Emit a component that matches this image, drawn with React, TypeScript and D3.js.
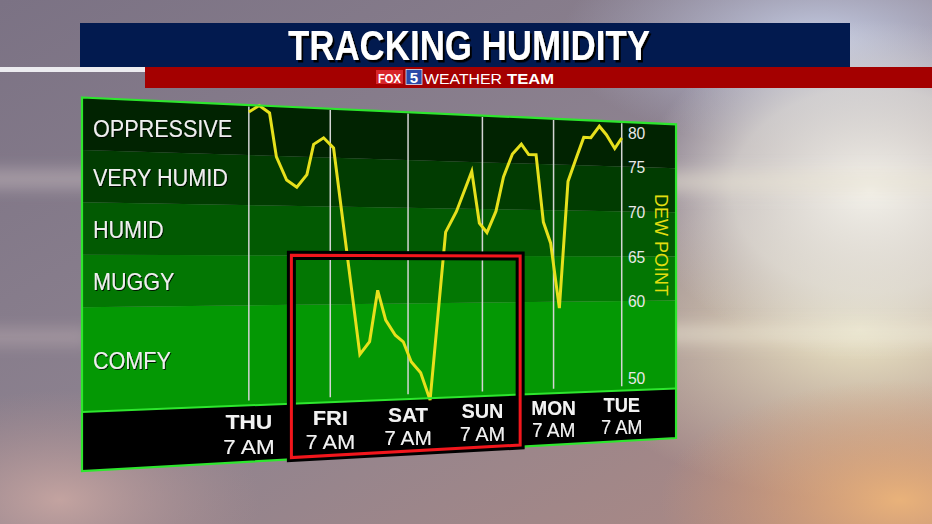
import React from 'react';
import * as d3 from 'd3';

// ---------- DATA ----------
const bandLabels = ['OPPRESSIVE', 'VERY HUMID', 'HUMID', 'MUGGY', 'COMFY'];
const bandTops = [80, 75, 70, 65, 60];
const bandBottoms = [75, 70, 65, 60, 50];
const bandColors = ['#012301', '#013c01', '#025a02', '#037703', '#049804'];
const dayLabels = ['THU', 'FRI', 'SAT', 'SUN', 'MON', 'TUE'];
const timeLabel = '7 AM';
const dewTicks = [80, 75, 70, 65, 60, 50];
// hours after THU 7 AM
const hours = [0, 3, 6, 8, 11, 14, 17, 19, 22, 25, 33, 36, 38.5, 41, 44, 46.5, 49, 52, 55, 60, 63.5, 68.5, 71, 73.5, 76.5, 79, 82, 85, 87.5, 90, 92.5, 95, 98, 101, 104, 106.5, 109, 112, 114.5, 117.5, 120];
const dewPoints = [79.3, 80, 79.3, 74.9, 72.6, 71.9, 73.2, 76.3, 77, 76, 54.8, 56.1, 61.4, 58.3, 56.7, 56, 53.9, 52.7, 49.8, 67.5, 69.7, 74, 68.5, 67.5, 69.8, 73.5, 76, 77.1, 76, 76, 68.7, 66.4, 59.3, 73.2, 75.9, 78.1, 78.1, 79.4, 78.5, 77, 78.2];
const highlightHours = [12.4, 84.6];
const highlightTopDew = 65;
const title = 'TRACKING HUMIDITY';
const yAxisTitle = 'DEW POINT';

// ---------- PERSPECTIVE ----------
const PG = 0.1906, PA = 722.9, PC = 82, PD = 50.5, PE = 373.5, PF = 97.5;
function project(s: number, v: number): [number, number] {
  const w = 1 + PG * s;
  return [(PA * s + PC) / w, (PD * s + PE * v + PF) / w];
}
function jx(s: number) {
  return 1 / ((1 + PG * s) * (1 + PG * s));
}
function quad(s0: number, s1: number, v0: number, v1: number) {
  const p = [project(s0, v0), project(s1, v0), project(s1, v1), project(s0, v1)];
  return 'M' + p.map((q) => q[0].toFixed(2) + ',' + q[1].toFixed(2)).join('L') + 'Z';
}

const GREEN_BOTTOM = 0.842;
const sScale = d3.scaleLinear().domain([0, 120]).range([0.247, 0.893]);
const vScale = d3.scaleLinear().domain([80, 50]).range([0, GREEN_BOTTOM]);

const FONT = "'Liberation Sans', Arial, Helvetica, sans-serif";

export default function App() {
  const linePts = hours.map((h, i) => project(sScale(h), vScale(dewPoints[i])));
  const linePath = d3.line().curve(d3.curveLinear)(linePts) || '';
  const sepA = project(0, GREEN_BOTTOM);
  const sepB = project(1, GREEN_BOTTOM);
  const dewAnchor = project(0.958, 0.385);
  const boxPath = quad(sScale(highlightHours[0]), sScale(highlightHours[1]), vScale(highlightTopDew), 0.995);

  return (
    <svg width={932} height={524} style={{ position: 'absolute', left: 0, top: 0 }} fontFamily={FONT}>
      <defs>
        <filter id="ts" x="-10%" y="-20%" width="130%" height="150%">
          <feDropShadow dx="1" dy="1" stdDeviation="0.6" floodColor="#000" floodOpacity="0.85" />
        </filter>
        <filter id="tts" x="-10%" y="-20%" width="130%" height="160%">
          <feDropShadow dx="2" dy="2.5" stdDeviation="0.4" floodColor="#000" floodOpacity="1" />
        </filter>
        <filter id="blur8"><feGaussianBlur stdDeviation="8" /></filter>
        <linearGradient id="bgBase" x1="0" y1="0" x2="1" y2="1">
          <stop offset="0" stopColor="#7b7284" />
          <stop offset="0.5" stopColor="#8e8390" />
          <stop offset="1" stopColor="#b08a82" />
        </linearGradient>
        <radialGradient id="glow" cx="0.5" cy="0.5" r="0.5">
          <stop offset="0" stopColor="#f3f1ea" stopOpacity="1" />
          <stop offset="0.6" stopColor="#e4e2dc" stopOpacity="0.7" />
          <stop offset="1" stopColor="#d8d6d8" stopOpacity="0" />
        </radialGradient>
        <radialGradient id="orange" cx="0.5" cy="0.5" r="0.5">
          <stop offset="0" stopColor="#e9b27a" stopOpacity="1" />
          <stop offset="1" stopColor="#d99a70" stopOpacity="0" />
        </radialGradient>
        <radialGradient id="blue" cx="0.5" cy="0.5" r="0.5">
          <stop offset="0" stopColor="#c4cbe2" stopOpacity="1" />
          <stop offset="1" stopColor="#b0b6d0" stopOpacity="0" />
        </radialGradient>
        <radialGradient id="cream" cx="0.5" cy="0.5" r="0.5">
          <stop offset="0" stopColor="#ece6c6" stopOpacity="1" />
          <stop offset="1" stopColor="#e2d8b8" stopOpacity="0" />
        </radialGradient>
        <radialGradient id="pink" cx="0.5" cy="0.5" r="0.5">
          <stop offset="0" stopColor="#c3a3a0" stopOpacity="1" />
          <stop offset="1" stopColor="#b09090" stopOpacity="0" />
        </radialGradient>
      </defs>

      {/* background */}
      <rect x={0} y={0} width={932} height={524} fill="url(#bgBase)" />
      <ellipse cx={820} cy={40} rx={260} ry={110} fill="url(#blue)" />
      <ellipse cx={860} cy={330} rx={300} ry={170} fill="url(#cream)" />
      <ellipse cx={870} cy={190} rx={230} ry={170} fill="url(#glow)" />
      <ellipse cx={900} cy={500} rx={240} ry={120} fill="url(#orange)" />
      <ellipse cx={60} cy={500} rx={200} ry={110} fill="url(#pink)" />
      <g filter="url(#blur8)" opacity={0.55}>
        <rect x={640} y={172} width={320} height={20} fill="#e8e2d2" />
        <rect x={-20} y={170} width={120} height={18} fill="#c8bcc0" />
        <rect x={660} y={326} width={300} height={16} fill="#f0ead8" />
        <rect x={-20} y={330} width={110} height={14} fill="#c0b0b4" />
      </g>

      {/* header */}
      <rect x={0} y={67} width={146} height={5} fill="#ececf0" />
      <rect x={80} y={23} width={770} height={44} fill="#021a4f" />
      <rect x={145} y={67} width={787} height={21} fill="#a40000" />
      <text x={469} y={60} textAnchor="middle" fontSize={42} fontWeight={900} fill="#fff"
        textLength={362} lengthAdjust="spacingAndGlyphs" filter="url(#tts)">{title}</text>
      <rect x={376} y={70} width={27} height={14} fill="#d8262a" />
      <text x={389.5} y={82.5} textAnchor="middle" fontSize={13} fontWeight={700} fill="#fff"
        textLength={23} lengthAdjust="spacingAndGlyphs">FOX</text>
      <rect x={406} y={69.5} width={16} height={15} fill="#2a4aa8" stroke="#dfe4f0" strokeWidth={0.8} />
      <text x={414} y={83} textAnchor="middle" fontSize={15} fontWeight={700} fill="#fff">5</text>
      <text x={424} y={83.5} fontSize={15} fill="#fff" textLength={78} lengthAdjust="spacingAndGlyphs">WEATHER</text>
      <text x={507} y={83.5} fontSize={15} fontWeight={700} fill="#fff" textLength={47} lengthAdjust="spacingAndGlyphs">TEAM</text>

      {/* panel bands */}
      {bandLabels.map((b, i) => (
        <path key={b} d={quad(0, 1, vScale(bandTops[i]), vScale(bandBottoms[i]))} fill={bandColors[i]} />
      ))}
      <path d={quad(0, 1, GREEN_BOTTOM, 1)} fill="#000" />

      {/* day lines */}
      {dayLabels.map((d, i) => {
        const s = sScale(i * 24);
        const a = project(s, 0.004);
        const b = project(s, 0.828);
        return <line key={d} x1={a[0]} y1={a[1]} x2={b[0]} y2={b[1]} stroke="#d4d4d4" strokeWidth={1.5} />;
      })}

      {/* left band labels */}
      {bandLabels.map((b, i) => {
        const s = 0.0155;
        const p = project(s, (vScale(bandTops[i]) + vScale(bandBottoms[i])) / 2);
        const dy = i === 0 ? 13 : 9.5;
        return (
          <text key={b} transform={`translate(${p[0]},${p[1] + dy}) scale(0.9,1)`} fontSize={24}
            fill="#efefef" filter="url(#ts)">{b}</text>
        );
      })}

      {/* right axis */}
      {dewTicks.map((t) => {
        const p = project(0.905, vScale(t));
        const dy = t === 80 ? 16.5 : t === 50 ? -6 : 6.5;
        return (
          <text key={t} transform={`translate(${p[0]},${p[1] + dy}) scale(0.95,1)`} fontSize={16.5}
            fill="#e8e8e8">{t}</text>
        );
      })}
      <text transform={`translate(${dewAnchor[0]},${dewAnchor[1]}) rotate(90)`} textAnchor="middle"
        fontSize={18} fill="#e2de10">{yAxisTitle}</text>

      {/* dew point line */}
      <path d={linePath} fill="none" stroke="#e6e01c" strokeWidth={3} strokeLinejoin="miter" />

      {/* borders */}
      <path d={quad(0, 1, 0, 1)} fill="none" stroke="#2ee62e" strokeWidth={2.2} />
      <line x1={sepA[0]} y1={sepA[1]} x2={sepB[0]} y2={sepB[1]} stroke="#2ee62e" strokeWidth={2} />

      {/* bottom labels */}
      {dayLabels.map((d, i) => {
        const s = sScale(i * 24);
        const sx = 1.25 * jx(s);
        const p1 = project(s, 0.908);
        const p2 = project(s, 0.977);
        return (
          <g key={d} fill="#f2f2f2" filter="url(#ts)">
            <text transform={`translate(${p1[0]},${p1[1]}) scale(${sx},1)`} textAnchor="middle" fontSize={20}
              fontWeight={700}>{d}</text>
            <text transform={`translate(${p2[0]},${p2[1]}) scale(${sx},1)`} textAnchor="middle" fontSize={20}>{timeLabel}</text>
          </g>
        );
      })}

      {/* highlight box */}
      <path d={boxPath} fill="none" stroke="#000" strokeWidth={9} />
      <path d={boxPath} fill="none" stroke="#f2161c" strokeWidth={3} />
    </svg>
  );
}
